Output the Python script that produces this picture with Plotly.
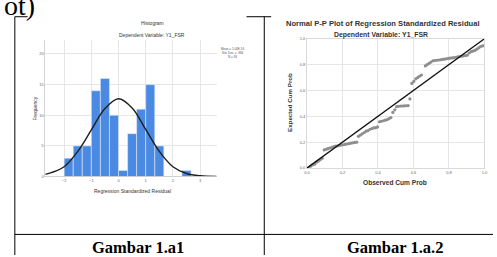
import plotly.graph_objects as go

# ---------------- data ----------------
# Histogram (Gambar 1.a1)
bin_centers = [-1.833, -1.5, -1.167, -0.833, -0.5, -0.167, 0.167, 0.5, 0.833,
               1.167, 1.5, 1.833, 2.167, 2.5]
bin_counts = [3, 5, 5, 14, 16, 10, 1, 7, 11, 15, 5, 0, 0, 1]
bin_width = 0.333
hist_xticks = [-2, -1, 0, 1, 2, 3]
hist_yticks = [0, 5, 10, 15, 20]

# normal curve
curve_x = [-2.7, -2.5, -2.0, -1.5, -1.0, -0.5, 0.0, 0.5, 1.0, 1.5, 2.0, 2.5, 3.0, 3.6]
curve_y = [0.35, 0.6, 1.6, 4.1, 7.6, 11.1, 12.7, 11.2, 7.7, 4.1, 1.6, 0.5, 0.12, 0.02]

legend_lines = ["Mean = 1.04E-16", "Std. Dev. = .984", "N = 93"]

# P-P plot (Gambar 1.a.2)
pp_obs = [0.011, 0.022, 0.032, 0.043, 0.054, 0.065, 0.075, 0.086,
          0.097, 0.108, 0.118, 0.129, 0.14, 0.151, 0.161, 0.172, 0.183, 0.194,
          0.204, 0.215, 0.226, 0.237, 0.247, 0.258, 0.269, 0.28,
          0.29, 0.301, 0.312, 0.323, 0.333, 0.344, 0.355, 0.366, 0.376, 0.387, 0.398,
          0.409, 0.419, 0.43, 0.441, 0.452, 0.462, 0.473,
          0.484, 0.495,
          0.505, 0.516, 0.527, 0.538, 0.548, 0.559, 0.57,
          0.58,
          0.591, 0.602, 0.613, 0.624, 0.634, 0.645,
          0.667, 0.677, 0.688, 0.699, 0.71, 0.72, 0.731, 0.742, 0.753, 0.763, 0.774,
          0.785, 0.796, 0.806, 0.817, 0.828, 0.839, 0.849, 0.86, 0.871, 0.882, 0.892, 0.903,
          0.914, 0.925, 0.935, 0.946, 0.957, 0.968, 0.978, 0.989, 1.0]
pp_exp = [0.005, 0.015, 0.025, 0.03, 0.045, 0.055, 0.065, 0.075,
          0.14, 0.145, 0.15, 0.155, 0.16, 0.165, 0.17, 0.172, 0.175, 0.178,
          0.18, 0.183, 0.186, 0.189, 0.192, 0.195, 0.198, 0.2,
          0.245, 0.255, 0.265, 0.275, 0.285, 0.29, 0.3, 0.305, 0.31, 0.312, 0.318,
          0.358, 0.362, 0.366, 0.37, 0.375, 0.382, 0.39,
          0.43, 0.45,
          0.475, 0.478, 0.48, 0.48, 0.481, 0.482, 0.483,
          0.535,
          0.655, 0.67, 0.69, 0.7, 0.71, 0.72,
          0.79, 0.8, 0.81, 0.82, 0.83, 0.832, 0.834, 0.836, 0.838, 0.84, 0.842,
          0.845, 0.848, 0.85, 0.852, 0.855, 0.857, 0.86, 0.862, 0.865, 0.868, 0.87, 0.873,
          0.89, 0.9, 0.905, 0.91, 0.92, 0.93, 0.94, 0.945, 0.948]
ref_line_x = [0.0, 1.0]
ref_line_y = [0.0, 1.0]
pp_ticks = [0.0, 0.2, 0.4, 0.6, 0.8, 1.0]
pp_ticktext = ["0.0", "0.2", "0.4", "0.6", "0.8", "1.0"]

captions = ["Gambar 1.a1", "Gambar 1.a.2"]

# ---------------- layout helpers ----------------
W, H = 497, 257


def px(x):
    return x / W


def py(y):
    return 1 - y / H


SANS = "Liberation Sans, Arial, sans-serif"
SERIF = "Liberation Serif, Times New Roman, serif"

fig = go.Figure()

fig.add_trace(go.Bar(
    x=bin_centers, y=bin_counts, width=bin_width,
    marker=dict(color="#4a8ae2", line=dict(color="#dfe8f6", width=0.6)),
    xaxis="x", yaxis="y", showlegend=False, hoverinfo="skip"))

fig.add_trace(go.Scatter(
    x=curve_x, y=curve_y, mode="lines", line=dict(color="#1e1e1e", width=1.4, shape="spline"),
    xaxis="x", yaxis="y", showlegend=False, hoverinfo="skip"))

fig.add_trace(go.Scatter(
    x=pp_obs, y=pp_exp, mode="markers",
    marker=dict(color="#8e8e8e", size=3.2, line=dict(width=0)),
    xaxis="x2", yaxis="y2", showlegend=False, hoverinfo="skip"))

fig.add_trace(go.Scatter(
    x=ref_line_x, y=ref_line_y, mode="lines", line=dict(color="#111111", width=1.4),
    xaxis="x2", yaxis="y2", showlegend=False, hoverinfo="skip"))

tickfont = dict(family=SANS, size=4, color="#666666")

fig.update_layout(
    width=W, height=H, margin=dict(l=0, r=0, t=0, b=0),
    paper_bgcolor="white", plot_bgcolor="white",
    bargap=0,
    xaxis=dict(domain=[px(43), px(217)], range=[-2.69, 3.62], tickvals=hist_xticks,
               showgrid=True, gridcolor="#e0e0e0", gridwidth=0.8, zeroline=False,
               showline=True, linecolor="#c8c8c8", linewidth=0.8,
               ticks="", tickfont=tickfont, fixedrange=True),
    yaxis=dict(domain=[py(177), py(38)], range=[0, 22.24], tickvals=hist_yticks,
               showgrid=True, gridcolor="#e0e0e0", gridwidth=0.8, zeroline=False,
               showline=True, linecolor="#c8c8c8", linewidth=0.8,
               ticks="", tickfont=tickfont, fixedrange=True),
    xaxis2=dict(domain=[px(308.3), px(488.3)], range=[0, 1], tickvals=pp_ticks,
                ticktext=pp_ticktext, anchor="y2",
                showgrid=True, gridcolor="#e0e0e0", gridwidth=0.8, zeroline=False,
                showline=True, mirror=True, linecolor="#d0d0d0", linewidth=0.8,
                ticks="", tickfont=tickfont, fixedrange=True),
    yaxis2=dict(domain=[py(168.3), py(36.5)], range=[0, 1], tickvals=pp_ticks,
                ticktext=pp_ticktext, anchor="x2",
                showgrid=True, gridcolor="#e0e0e0", gridwidth=0.8, zeroline=False,
                showline=True, mirror=True, linecolor="#d0d0d0", linewidth=0.8,
                ticks="", tickfont=tickfont, fixedrange=True),
)

ann = []


def text(x, y, s, size, family=SANS, color="#333333", xanchor="center", yanchor="middle",
         angle=0, bold=False):
    if bold:
        s = "<b>" + s + "</b>"
    ann.append(dict(x=px(x), y=py(y), xref="paper", yref="paper", text=s, showarrow=False,
                    xanchor=xanchor, yanchor=yanchor, textangle=angle,
                    font=dict(family=family, size=size, color=color)))


# histogram texts
text(152, 20.5, "Histogram", 5)
text(151, 33, "Dependent Variable: Y1_FSR", 5)
text(32, 108, "Frequency", 5, angle=-90)
text(131, 192, "Regression Standardized Residual", 5)
text(219, 50.5, "<br>".join(legend_lines), 3, color="#555555", xanchor="left")

# P-P texts
text(385, 20.5, "Normal P-P Plot of Regression Standardized Residual", 7.6, bold=True)
text(383, 33, "Dependent Variable: Y1_FSR", 6.9, bold=True)
text(290, 101, "Expected Cum Prob", 6.2, angle=-90, bold=True)
text(398, 183, "Observed Cum Prob", 6.6, bold=True)

# captions
text(137, 249, captions[0], 16.5, family=SERIF, color="#000000", bold=True)
text(398, 249, captions[1], 16.5, family=SERIF, color="#000000", bold=True)

# clipped text from the previous line
text(-1, 20, "ot)", 28, family=SERIF, color="#000000", xanchor="left", yanchor="bottom")

fig.update_layout(annotations=ann)

# table borders
lines = [
    (12, 14, 12, 257),
    (265, 14, 265, 257),
    (12, 236, 497, 236),
    (12, 14, 25, 14),
    (247, 14, 272, 14),
]
fig.update_layout(shapes=[
    dict(type="line", xref="paper", yref="paper", x0=px(a), y0=py(b), x1=px(c), y1=py(d),
         line=dict(color="#000000", width=1)) for a, b, c, d in lines])

fig.write_html("out.html", config={"displayModeBar": False, "staticPlot": True},
               post_script="document.body.style.margin='0px';document.body.style.overflow='hidden';")
